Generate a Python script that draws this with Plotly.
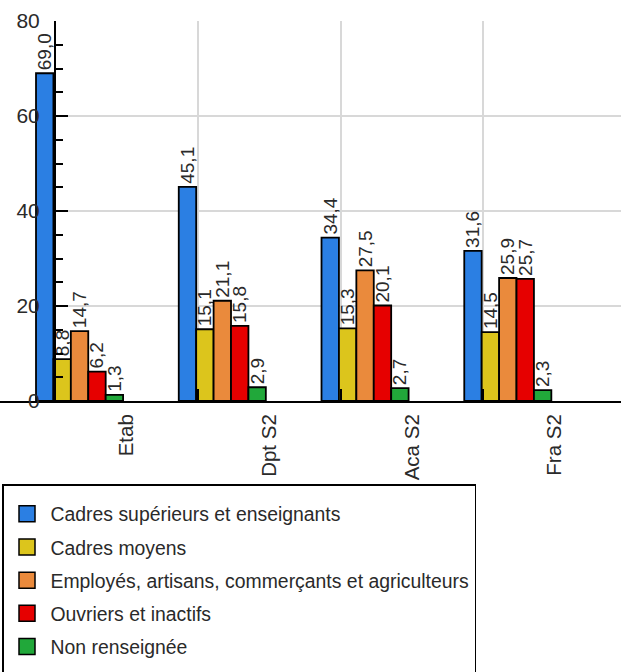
import plotly.graph_objects as go

categories = ["Etab", "Dpt S2", "Aca S2", "Fra S2"]
series_names = [
    "Cadres supérieurs et enseignants",
    "Cadres moyens",
    "Employés, artisans, commerçants et agriculteurs",
    "Ouvriers et inactifs",
    "Non renseignée",
]
cadres_superieurs = [69.0, 45.1, 34.4, 31.6]
cadres_moyens = [8.8, 15.1, 15.3, 14.5]
employes_artisans = [14.7, 21.1, 27.5, 25.9]
ouvriers_inactifs = [6.2, 15.8, 20.1, 25.7]
non_renseignee = [1.3, 2.9, 2.7, 2.3]
y_ticks = [0, 20, 40, 60, 80]

series_values = [cadres_superieurs, cadres_moyens, employes_artisans,
                 ouvriers_inactifs, non_renseignee]
colors = ["#2b7fe3", "#dcc51c", "#ea8a3c", "#e60000", "#21a83a"]

W, H = 621, 672
FONT = "Liberation Sans, Arial, sans-serif"
TXT = "#2a2a2a"

bar_w = 0.122
start = -0.633

fig = go.Figure()
for i, (name, vals, col) in enumerate(zip(series_names, series_values, colors)):
    fig.add_trace(go.Bar(
        x=categories, y=vals, name=name,
        marker=dict(color=col, line=dict(color="black", width=1.8)),
        width=bar_w, offset=start + i * bar_w,
        text=[f"{v:.1f}".replace(".", ",") for v in vals],
        textposition="outside", textangle=-90, constraintext="none",
        cliponaxis=False,
        textfont=dict(family=FONT, size=19, color=TXT),
        showlegend=False,
    ))
    # legend entry with a larger swatch
    fig.add_trace(go.Scatter(
        x=[None], y=[None], mode="markers", name=name,
        legendgroup=f"g{i}",
        marker=dict(symbol="square", size=16, color=col,
                    line=dict(color="black", width=1.5)),
    ))

# invisible spacer so the legend box runs past the bottom edge, as in the original
fig.add_trace(go.Scatter(
    x=[None], y=[None], mode="markers", name=" ", legendgroup="spacer",
    marker=dict(size=1, color="rgba(0,0,0,0)", line=dict(width=0)),
    hoverinfo="skip",
))

axis_px = 55
px_per_unit = 142.75
x0 = -0.5 - axis_px / px_per_unit
x1 = 3.5 - (626 - W) / px_per_unit

fig.update_layout(
    width=W, height=H,
    margin=dict(l=0, r=0, t=21, b=H - 401, autoexpand=False),
    paper_bgcolor="white", plot_bgcolor="white",
    barmode="group",
    font=dict(family=FONT, color=TXT),
    xaxis=dict(
        type="category", range=[x0, x1], tickson="boundaries",
        showgrid=True, gridcolor="#d8d8d8", gridwidth=1.5,
        showline=True, linecolor="black", linewidth=2,
        ticks="inside", ticklen=12, tickwidth=2, tickcolor="black",
        tickangle=-90, ticklabelstandoff=3,
        tickfont=dict(family=FONT, size=20.5, color=TXT),
        zeroline=False, automargin=False,
    ),
    yaxis=dict(
        range=[0, 80], tickvals=y_ticks,
        anchor="free", position=axis_px / W,
        showgrid=True, gridcolor="#d8d8d8", gridwidth=1.5,
        showline=True, linecolor="black", linewidth=2,
        ticks="inside", ticklen=12, tickwidth=2, tickcolor="black",
        minor=dict(dtick=5, ticks="inside", ticklen=7, tickwidth=1.5,
                   tickcolor="black", showgrid=False),
        ticklabelstandoff=10,
        tickfont=dict(family=FONT, size=21, color=TXT),
        zeroline=False, automargin=False,
    ),
    legend=dict(
        x=2 / W, y=(401 - 484) / 380,
        xanchor="left", yanchor="top",
        bgcolor="white", bordercolor="black", borderwidth=1.5,
        font=dict(family=FONT, size=19.4, color=TXT),
        title=dict(text=" ", font=dict(size=7)),
        traceorder="grouped", tracegroupgap=5, itemwidth=37,
        itemsizing="trace",
    ),
    shapes=[dict(
        type="rect", xref="x", yref="y",
        x0=x0 - 0.2, x1=-0.5 - 1.5 / px_per_unit, y0=0.3, y1=81,
        fillcolor="white", line=dict(width=0), layer="between",
    )],
)

fig.write_html(
    "out.html",
    config={"displayModeBar": False},
    post_script="document.body.style.margin='0';document.body.style.padding='0';",
)
